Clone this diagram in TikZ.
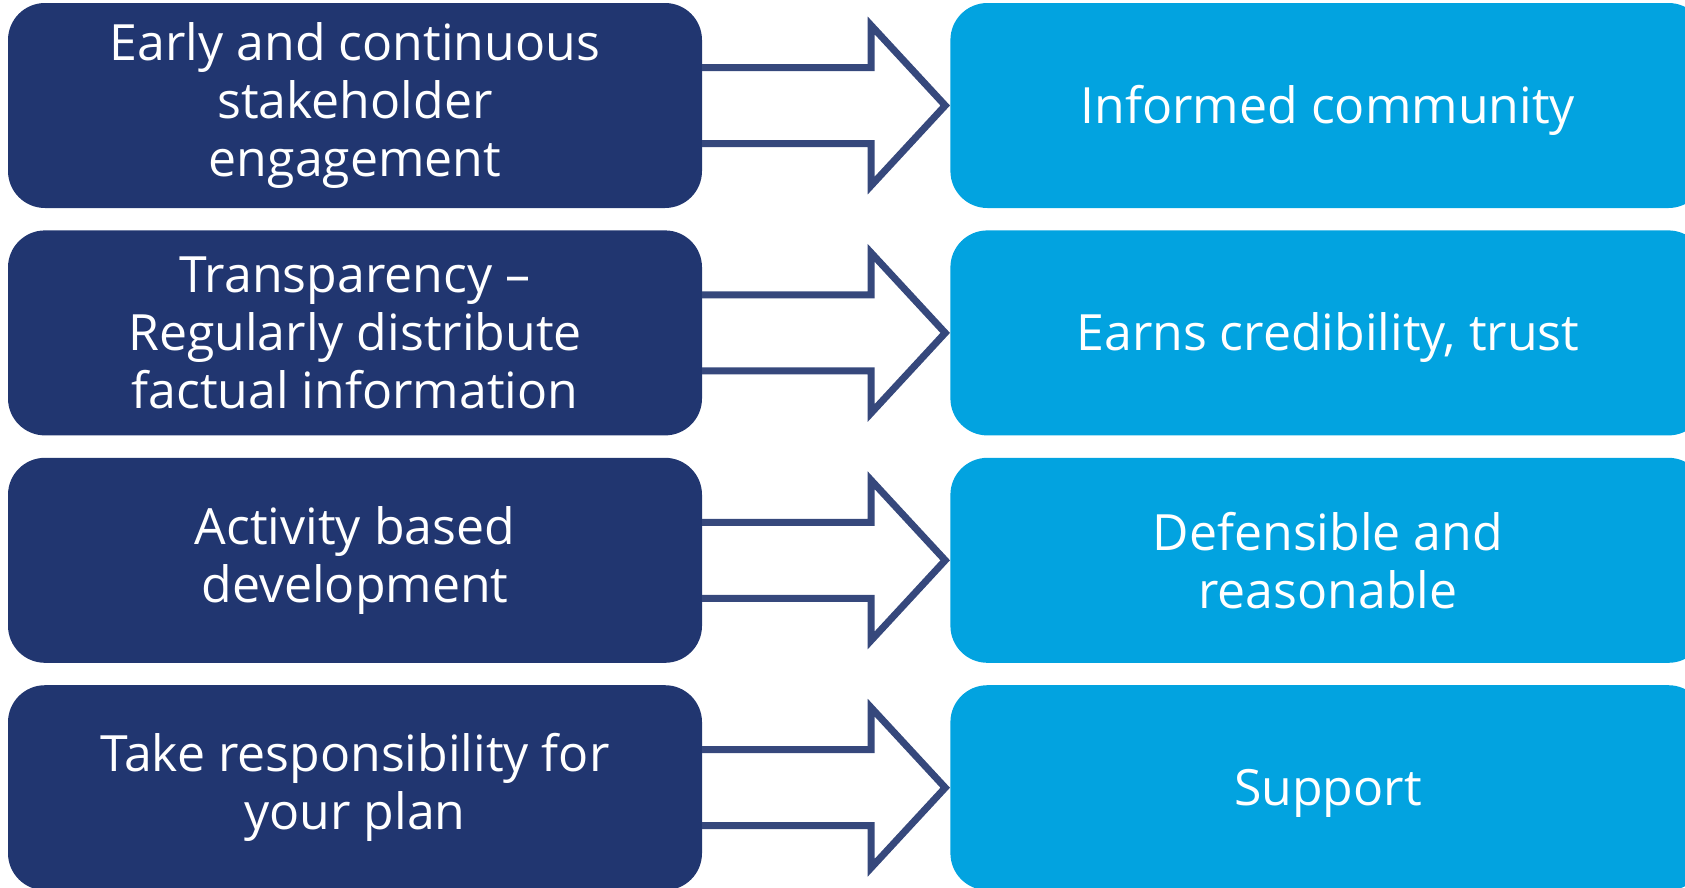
\documentclass[tikz,border=0pt]{standalone}
\usepackage{fontspec}
\setmainfont{Open Sans}
\usetikzlibrary{positioning}
\definecolor{navy}{RGB}{33,54,112}
\definecolor{ciel}{RGB}{2,163,224}
\definecolor{fleche}{RGB}{54,72,124}
\tikzset{
	cause/.style={fill=navy, text=white, rounded corners=37pt, minimum width=694pt, minimum height=205pt, inner sep=0pt, align=center, font=\fontsize{50}{58}\selectfont, execute at begin node={\rule{0pt}{48pt}}},
	effet/.style={cause, fill=ciel, minimum width=755pt},
	bloc/.style={draw=fleche, line width=7pt, line join=miter}
}
\begin{document}
\begin{tikzpicture}[x=1pt,y=1pt]
	\useasboundingbox (0,-887) rectangle (1685,0);
	% les causes
	\node[cause] (c1) at (355,-105.5) {Early and continuous\\stakeholder\\engagement};
	\node[cause, below=22pt of c1] (c2) {Transparency --\\Regularly distribute\\factual information};
	\node[cause, below=22pt of c2] (c3) {Activity based\\development};
	\node[cause, below=22pt of c3] (c4) {Take responsibility for\\your plan};
	% les effets
	\node[effet, right=248pt of c1] (e1) {Informed community};
	\node[effet, right=248pt of c2] (e2) {Earns credibility, trust};
	\node[effet, right=248pt of c3] (e3) {Defensible and\\reasonable};
	\node[effet, right=248pt of c4] (e4) {Support};
	% les fleches
	\foreach \i in {1,...,4}
		\draw[bloc] ([yshift=38pt]c\i.east) -- ++(169,0) -- ++(0,42) -- ([xshift=-5pt]e\i.west) -- ++(-74,-80) -- ++(0,42) -- ([yshift=-38pt]c\i.east);
\end{tikzpicture}
\end{document}
